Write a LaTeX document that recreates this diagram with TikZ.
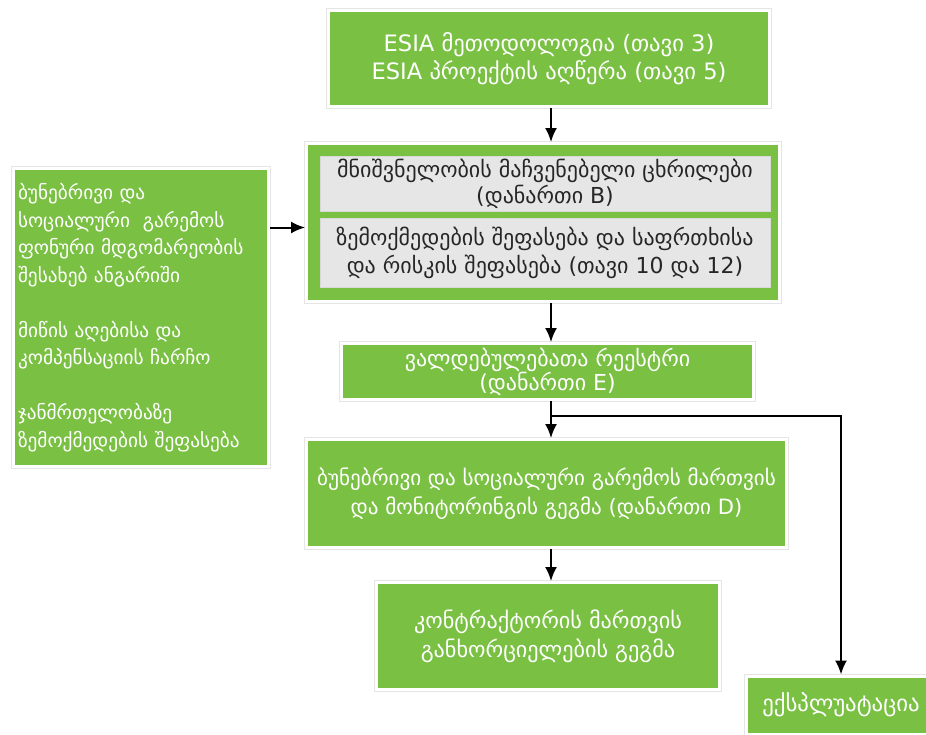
\documentclass[tikz,border=0pt]{standalone}
\usepackage{fontspec}
\setmainfont{DejaVu Sans}
\usetikzlibrary{arrows.meta,calc}
\definecolor{esiagreen}{RGB}{122,193,67}
\definecolor{cellgrey}{RGB}{230,230,230}

\begin{document}
\begin{tikzpicture}[x=1pt,y=-1pt,
    box/.style={draw=white,line width=3pt,preaction={draw=black!10,line width=5pt},inner sep=3pt,align=center},
    greenbox/.style={box,fill=esiagreen,text=white},
    greybox/.style={fill=cellgrey,draw=white!85!black,line width=0.8pt,inner sep=2pt,align=center,text=black!85},
    arr/.style={-{Latex[length=14pt,width=12pt]},line width=2pt}]
        \path[use as bounding box,clip] (0,0) rectangle (926,734);
        \coordinate (spine) at (551,0);

        \node[greenbox,minimum width=441pt,minimum height=96pt,font=\fontsize{22.6}{28}\selectfont] (top) at (549,58.5)
          {ESIA მეთოდოლოგია (თავი 3)\\ESIA პროექტის აღწერა (თავი 5)};

        \node[greenbox,minimum width=473pt,minimum height=158pt] (mid) at (543,222.5) {};
        \node[greybox,minimum width=450pt,minimum height=55pt,font=\fontsize{22}{26}\selectfont] (crit) at (545,183.5)
          {მნიშვნელობის მაჩვენებელი ცხრილები\\(დანართი B)};
        \node[greybox,minimum width=450pt,minimum height=69pt,font=\fontsize{22}{28}\selectfont] (assess) at (545,252.5)
          {ზემოქმედების შეფასება და საფრთხისა\\და რისკის შეფასება (თავი 10 და 12)};

        \node[greenbox,minimum width=255pt,minimum height=298pt,text width=246pt,align=left,font=\fontsize{19.3}{27.5}\selectfont] (base) at (141,317.5)
          {ბუნებრივი და\\სოციალური\ \ გარემოს\\ფონური მდგომარეობის\\შესახებ ანგარიში\\[27.5pt]
           მიწის აღებისა და\\კომპენსაციის ჩარჩო\\[27.5pt]
           ჯანმრთელობაზე\\ზემოქმედების შეფასება};

        \node[greenbox,minimum width=412pt,minimum height=56pt,font=\fontsize{22}{24}\selectfont] (reg) at (547.5,371.5)
          {ვალდებულებათა რეესტრი\\(დანართი E)};
        \node[greenbox,minimum width=480pt,minimum height=108pt,font=\fontsize{21.1}{29}\selectfont] (mgmt) at (546.5,493.5)
          {ბუნებრივი და სოციალური გარემოს მართვის\\და მონიტორინგის გეგმა (დანართი D)};
        \node[greenbox,minimum width=343pt,minimum height=107pt,font=\fontsize{22.2}{29}\selectfont] (contr) at (548,636)
          {კონტრაქტორის მართვის\\განხორციელების გეგმა};
        \node[greenbox,minimum width=190pt,minimum height=58pt,font=\fontsize{22.8}{26}\selectfont] (expl) at (841,705)
          {ექსპლუატაცია};

        \draw[arr] (top.south -| spine) -- (mid.north -| spine);
        \draw[arr] ([yshift=-5pt]base.east |- mid.west) -- ([yshift=-5pt]mid.west);
        \draw[arr] (mid.south -| spine) -- (reg.north -| spine);
        \draw[arr] (reg.south -| spine) -- (mgmt.north -| spine);
        \draw[arr] ($(reg.south -| spine)+(0,15)$) -| (expl.north);
        \draw[arr] (mgmt.south -| spine) -- (contr.north -| spine);
      \end{tikzpicture}
\end{document}
